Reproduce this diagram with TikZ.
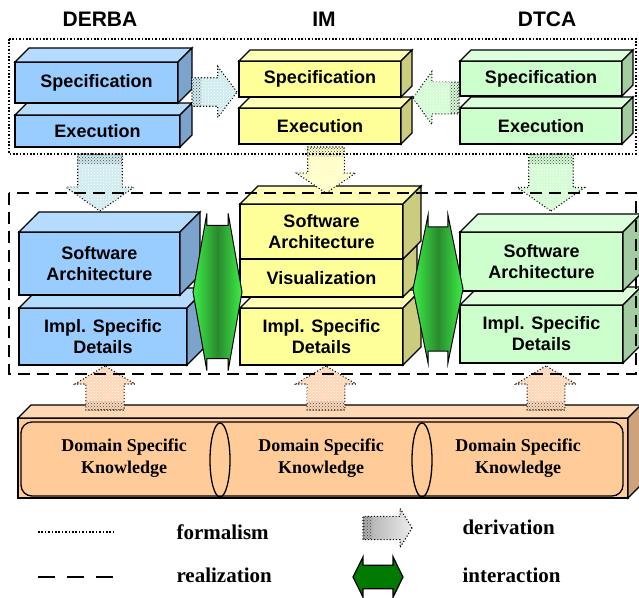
\documentclass[tikz,border=0pt]{standalone}
\usepackage{fontspec}
\setmainfont{Liberation Serif}
\setsansfont{Liberation Sans}
\usetikzlibrary{positioning,calc,shapes.arrows,shapes.geometric,patterns}

\definecolor{derbafront}{HTML}{99CCFF}
\definecolor{derbatop}{HTML}{B5DBFF}
\definecolor{derbaside}{HTML}{7BA3CC}
\definecolor{derbaarrow}{HTML}{CFEBEE}
\definecolor{imfront}{HTML}{FFFF99}
\definecolor{imtop}{HTML}{FFFFB8}
\definecolor{imside}{HTML}{CCCC7E}
\definecolor{imarrow}{HTML}{FFFFC4}
\definecolor{dtcafront}{HTML}{CCFFCC}
\definecolor{dtcatop}{HTML}{DCFFDC}
\definecolor{dtcaside}{HTML}{A3CCA3}
\definecolor{dtcaarrow}{HTML}{D2FCD2}
\definecolor{dskfront}{HTML}{FFCC99}
\definecolor{dsktop}{HTML}{FFD9B3}
\definecolor{dskside}{HTML}{CCA37C}
\definecolor{dskarrow}{HTML}{FFD6B4}
\definecolor{lightgreen}{HTML}{3CEE46}
\definecolor{darkgreen}{HTML}{2A8A2E}
\definecolor{legendgreen}{HTML}{007A00}

\tikzset{face/.style={draw, line width=1.3pt, rectangle, outer sep=0pt, inner sep=0pt, align=center, font=\sffamily\bfseries\fontsize{18}{21}\selectfont}}
\tikzset{title/.style={font=\sffamily\bfseries\fontsize{21}{24}\selectfont}}
\tikzset{dsk/.style={align=center, font=\rmfamily\bfseries\fontsize{18}{22}\selectfont}}
\tikzset{legendtext/.style={anchor=west, font=\rmfamily\bfseries\fontsize{21}{24}\selectfont}}
\tikzset{derivation/.style={single arrow, draw, dotted, line width=1.1pt, inner xsep=0pt, outer sep=0pt, anchor=tail}}
\tikzset{interaction/.style={double arrow, draw, line width=1pt, inner xsep=0pt, outer sep=0pt}}
\tikzset{greenshade/.style={left color=lightgreen, right color=lightgreen, middle color=darkgreen}}
\tikzset{formalism/.style={line width=1.6pt, dash pattern=on 1.6pt off 1.8pt}}
\tikzset{realization/.style={line width=2pt, dash pattern=on 12pt off 7pt}}

% top and right faces of a box drawn on a node
\newcommand{\cuboid}[4]{%
  \draw[line width=1.3pt, fill=#3] (#1.north west) -- ++(#2,-#2) -- ($(#1.north east)+(#2,-#2)$) -- (#1.north east) -- cycle;
  \draw[line width=1.3pt, fill=#4] (#1.north east) -- ++(#2,-#2) -- ($(#1.south east)+(#2,-#2)$) -- (#1.south east) -- cycle;
}
% dense dots at the tail of a derivation arrow
\newcommand{\tailstrip}[1]{%
  \fill[pattern=crosshatch dots, pattern color=black!75] (#1.before tail) -- (#1.after tail) -- ($(#1.after tail)!9pt!(#1.before head)$) -- ($(#1.before tail)!9pt!(#1.after head)$) -- cycle;
}

\begin{document}
\begin{tikzpicture}[x=1pt, y=-1pt]
\useasboundingbox (0,0) rectangle (639,597);

\node[title] (derba) at (100,19) {DERBA};
\node[title] (im) at (324,19) {IM};
\node[title] (dtca) at (547,19) {DTCA};

% formalism row
\node[face, fill=derbafront, minimum width=165pt, minimum height=32pt] (bexec) at (97.5,131) {Execution};
\cuboid{bexec}{12}{derbatop}{derbaside}
\node[face, fill=derbafront, minimum width=163pt, minimum height=41pt, above=12pt of bexec.north west, anchor=south west] (bspec) {Specification};
\cuboid{bspec}{14}{derbatop}{derbaside}

\node[face, fill=imfront, minimum width=162pt, minimum height=36pt] (yexec) at (320,126) {Execution};
\cuboid{yexec}{11}{imtop}{imside}
\node[face, fill=imfront, minimum width=162pt, minimum height=36pt, above=11pt of yexec] (yspec) {Specification};
\cuboid{yspec}{11}{imtop}{imside}

\node[face, fill=dtcafront, minimum width=162pt, minimum height=36pt] (gexec) at (541,126) {Execution};
\cuboid{gexec}{11}{dtcatop}{dtcaside}
\node[face, fill=dtcafront, minimum width=162pt, minimum height=35pt, above=12pt of gexec] (gspec) {Specification};
\cuboid{gspec}{11}{dtcatop}{dtcaside}

\node[derivation, fill=derbaarrow, postaction={pattern=crosshatch dots, pattern color=white}, minimum height=45pt, minimum width=51pt, inner ysep=8.5pt, single arrow tip angle=106] (bderiv) at (192,92) {};
\tailstrip{bderiv}
\node[derivation, fill=dtcaarrow, postaction={pattern=crosshatch dots, pattern color=white}, rotate=180, minimum height=46pt, minimum width=53pt, inner ysep=10pt, single arrow tip angle=109] (gderiv) at (459,98) {};
\tailstrip{gderiv}

% realization row
\node[face, fill=derbafront, minimum width=168pt, minimum height=57pt] (bimpl) at (103,336.5) {Impl. Specific\\Details};
\cuboid{bimpl}{20}{derbatop}{derbaside}
\node[face, fill=derbafront, minimum width=161pt, minimum height=63pt] (bsa) at (99.5,263.5) {Software\\Architecture};
\cuboid{bsa}{20}{derbatop}{derbaside}

\node[face, fill=imfront, minimum width=163pt, minimum height=57pt] (yimpl) at (321.5,336.5) {Impl. Specific\\Details};
\cuboid{yimpl}{18}{imtop}{imside}
\node[face, fill=imfront, minimum width=163pt, minimum height=38pt] (yvis) at (321.5,278) {Visualization};
\cuboid{yvis}{14}{imtop}{imside}
\node[face, fill=imfront, minimum width=163pt, minimum height=55pt, above=0pt of yvis] (ysa) {Software\\Architecture};
\cuboid{ysa}{18}{imtop}{imside}

\node[face, fill=dtcafront, minimum width=163pt, minimum height=58pt] (gimpl) at (541.5,334) {Impl. Specific\\Details};
\cuboid{gimpl}{18}{dtcatop}{dtcaside}
\node[face, fill=dtcafront, minimum width=163pt, minimum height=59pt] (gsa) at (541.5,261.5) {Software\\Architecture};
\cuboid{gsa}{18}{dtcatop}{dtcaside}

\node[derivation, fill=derbaarrow, postaction={pattern=crosshatch dots, pattern color=white}, rotate=-90, minimum height=57pt, minimum width=68pt, inner ysep=13pt, single arrow tip angle=110] (bdown) at (100,154) {};
\tailstrip{bdown}
\node[derivation, fill=imarrow, postaction={pattern=crosshatch dots, pattern color=white}, rotate=-90, minimum height=46pt, minimum width=59pt, inner ysep=11pt, single arrow tip angle=112] (ydown) at (326,147) {};
\tailstrip{ydown}
\node[derivation, fill=dtcaarrow, postaction={pattern=crosshatch dots, pattern color=white}, rotate=-90, minimum height=57pt, minimum width=67pt, inner ysep=13.5pt, single arrow tip angle=110] (gdown) at (551,154) {};
\tailstrip{gdown}

\node[interaction, greenshade, minimum height=49pt, minimum width=157pt, inner ysep=39pt, double arrow tip angle=160] (binter) at (217.5,292) {};
\node[interaction, greenshade, minimum height=50pt, minimum width=148pt, inner ysep=37pt, double arrow tip angle=157] (ginter) at (438,289) {};

% domain knowledge
\node[draw, line width=1.3pt, fill=dskfront, minimum width=610pt, minimum height=80pt, outer sep=0pt, inner sep=0pt] (dsk) at (323,458) {};
\cuboid{dsk}{13}{dsktop}{dskside}
\draw[line width=1.3pt, rounded corners=11pt] ($(dsk.north west)+(3,4)$) rectangle ($(dsk.south east)+(-5,-2)$);
\node[draw, line width=1.3pt, ellipse, minimum width=20pt, minimum height=74pt, inner sep=0pt] (oval1) at (220,460) {};
\node[draw, line width=1.3pt, ellipse, minimum width=20pt, minimum height=74pt, inner sep=0pt] (oval2) at (422,460) {};
\node[dsk] (dsk1) at (124,458) {Domain Specific\\Knowledge};
\node[dsk] (dsk2) at (321,458) {Domain Specific\\Knowledge};
\node[dsk] (dsk3) at (518,458) {Domain Specific\\Knowledge};

\node[derivation, fill=dskarrow, postaction={pattern=crosshatch dots, pattern color=white}, rotate=90, minimum height=44pt, minimum width=60pt, inner ysep=12pt, single arrow tip angle=118] (bup) at (105,410) {};
\tailstrip{bup}
\node[derivation, fill=dskarrow, postaction={pattern=crosshatch dots, pattern color=white}, rotate=90, minimum height=44pt, minimum width=60pt, inner ysep=11.5pt, single arrow tip angle=118] (yup) at (326,410) {};
\tailstrip{yup}
\node[derivation, fill=dskarrow, postaction={pattern=crosshatch dots, pattern color=white}, rotate=90, minimum height=44pt, minimum width=60pt, inner ysep=11.5pt, single arrow tip angle=118] (gup) at (546,410) {};
\tailstrip{gup}

% frames
\draw[formalism] (9,39) rectangle (636,154);
\draw[realization] (9,193) rectangle (636,374);

% legend
\coordinate (fstart) at (38,532);
\coordinate (fend) at (115,532);
\draw[line width=1.6pt, dash pattern=on 1.6pt off 1.8pt] (fstart) -- (fend);
\coordinate (rstart) at (38,577);
\coordinate (rend) at (115,577);
\draw[line width=2.5pt, dash pattern=on 17pt off 12pt] (rstart) -- (rend);
\node[legendtext] (formal) at (173,532) {formalism};
\node[legendtext] (realiz) at (173,575) {realization};
\node[derivation, left color=gray!65, right color=gray!15, minimum height=49pt, minimum width=39pt, inner ysep=10pt, single arrow tip angle=117] (lderiv) at (363,528) {};
\tailstrip{lderiv}
\node[interaction, fill=legendgreen, line width=1.3pt, minimum height=50pt, minimum width=40pt, inner ysep=9.5pt, double arrow tip angle=127] (linter) at (378,577) {};
\node[legendtext] (deriv) at (459,527) {derivation};
\node[legendtext] (inter) at (459,575) {interaction};
\end{tikzpicture}
\end{document}
